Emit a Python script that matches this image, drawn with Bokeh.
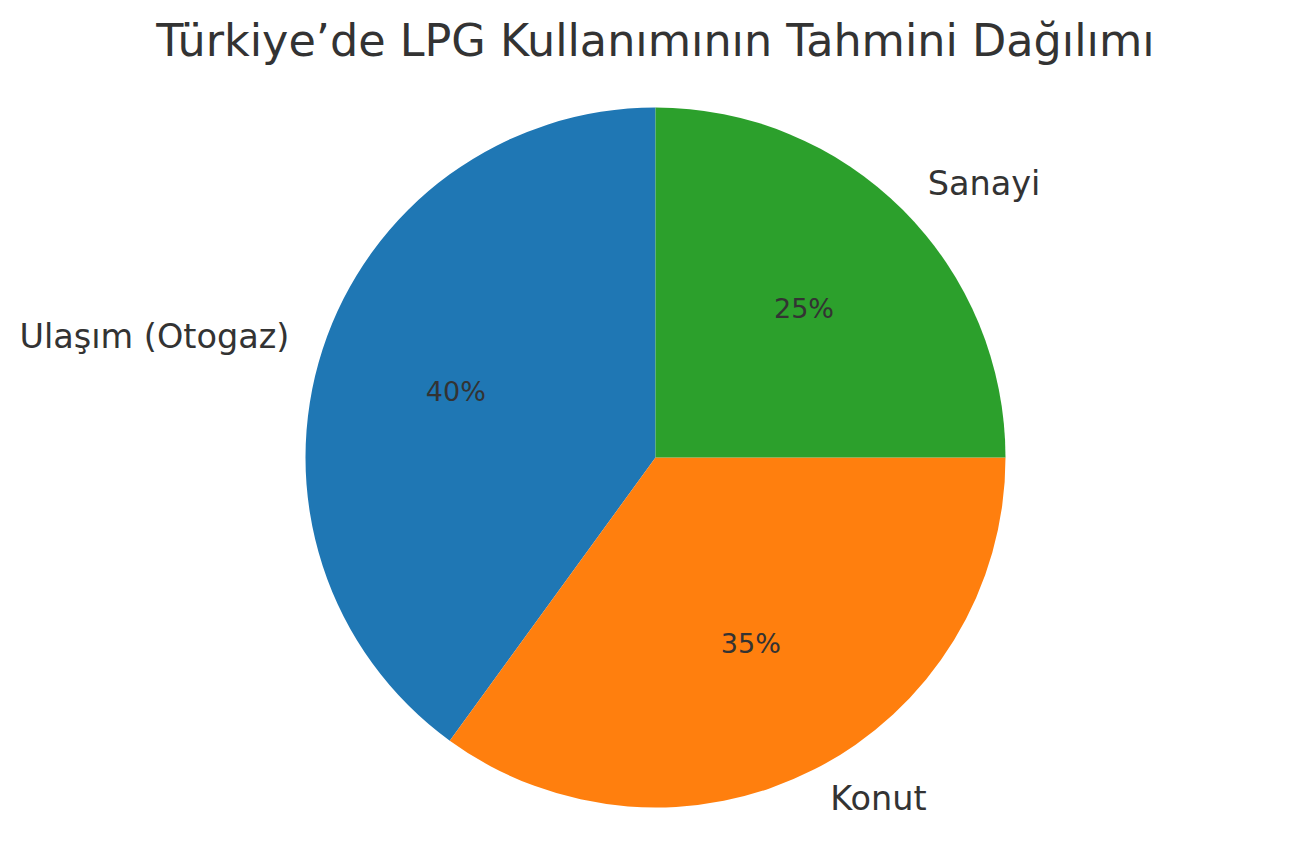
import math
from bokeh.plotting import figure
from bokeh.models import Range1d, ColumnDataSource
from bokeh.core.properties import value
from bokeh.embed import file_html
from bokeh.resources import INLINE

title_text = "Türkiye’de LPG Kullanımının Tahmini Dağılımı"
categories = ["Ulaşım (Otogaz)", "Konut", "Sanayi"]
shares = [40, 35, 25]
colors = ["#1f77b4", "#ff7f0e", "#2ca02c"]

W, H = 1278, 846
# data coordinates = picture pixels (x right, y up from bottom 862)
p = figure(width=W, height=H, output_backend="svg", toolbar_location=None,
           x_range=Range1d(0, W), y_range=Range1d(862 - H, 862),
           min_border=0, min_border_left=0, min_border_right=0,
           min_border_top=0, min_border_bottom=0)
p.axis.visible = False
p.grid.visible = False
p.outline_line_color = None
p.background_fill_color = "white"
p.border_fill_color = "white"

cx, cy, r = 655, 862 - 457, 350
total = sum(shares)
starts, ends, mids = [], [], []
a = math.pi / 2
for s in shares:
    e = a + 2 * math.pi * s / total
    starts.append(a)
    ends.append(e)
    mids.append((a + e) / 2)
    a = e

src = ColumnDataSource(dict(start=starts, end=ends, color=colors))
p.wedge(x=cx, y=cy, radius=r, start_angle="start", end_angle="end",
        fill_color="color", line_color=None, source=src)

lx = [cx + 1.1 * r * math.cos(m) for m in mids]
ly = [cy + 1.1 * r * math.sin(m) for m in mids]
align = ["left" if math.cos(m) > 0 else "right" for m in mids]
lab = ColumnDataSource(dict(x=lx, y=ly, t=categories, align=align))
p.text(x="x", y="y", text="t", text_align="align", text_baseline="middle",
       y_offset=-2,
       text_font=value("DejaVu Sans"), text_font_size="33.5px",
       text_color="#333333", source=lab)

px = [cx + 0.6 * r * math.cos(m) for m in mids]
py = [cy + 0.6 * r * math.sin(m) for m in mids]
pct = ColumnDataSource(dict(x=px, y=py, t=[f"{s}%" for s in shares]))
p.text(x="x", y="y", text="t", text_align="center", text_baseline="middle",
       y_offset=-1,
       text_font=value("DejaVu Sans"), text_font_size="27px",
       text_color="#333333", source=pct)

p.text(x=[655], y=[862 - 40], text=[title_text], text_align="center",
       text_baseline="middle", text_font=value("DejaVu Sans"),
       text_font_size="44.5px", text_color="#333333")

open("out.html", "w").write(file_html(p, INLINE))
